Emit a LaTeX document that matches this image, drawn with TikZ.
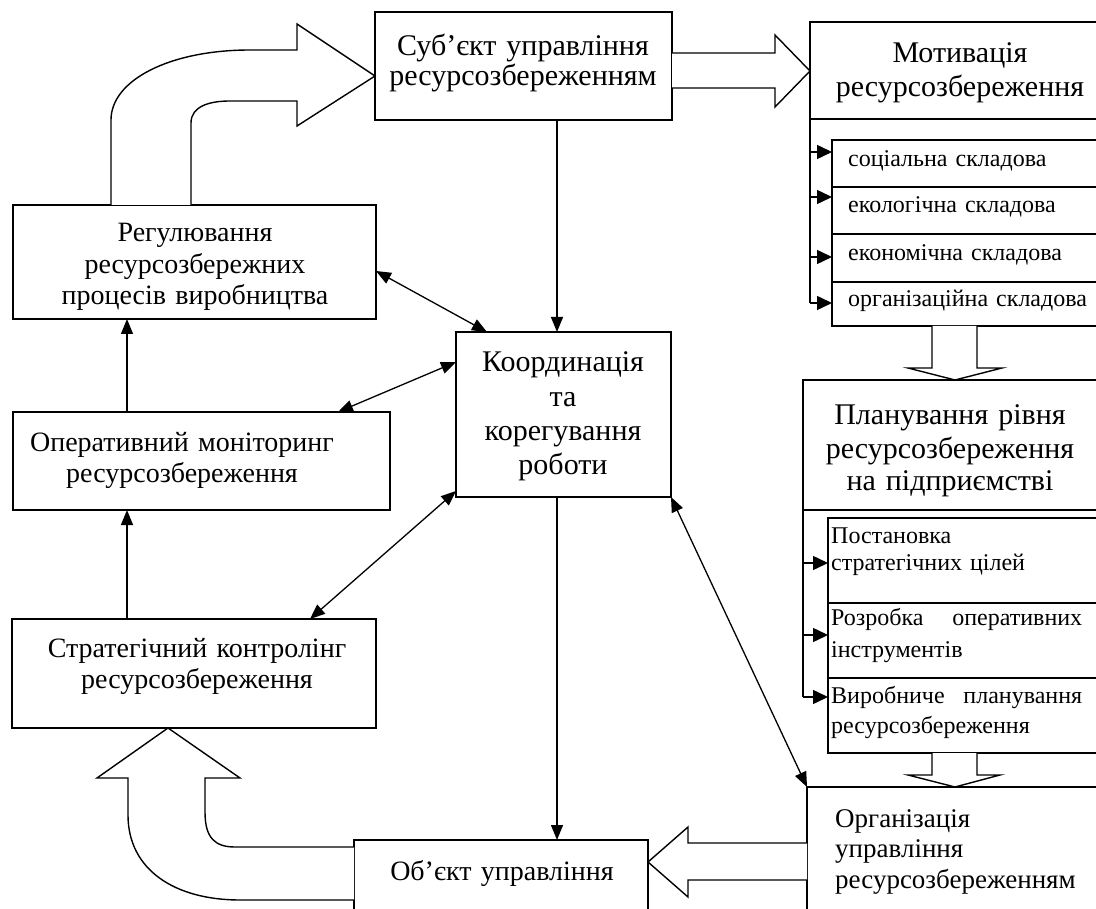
\documentclass[tikz,border=0pt]{standalone}
\usepackage{fontspec}
\setmainfont{Liberation Serif}
\usetikzlibrary{arrows.meta}
\begin{document}
\begin{tikzpicture}[x=1pt,y=-1pt,
  box/.style={draw, line width=1.5pt, inner sep=0pt, outer sep=0pt, anchor=north west},
  txt/.style={anchor=base, align=center, text width=#1, inner sep=0pt},
  ltxt/.style={anchor=base west, align=left, text width=#1, inner sep=0pt},
  fbig/.style={font=\fontsize{30}{#1}\selectfont},
  fmid/.style={font=\fontsize{28}{#1}\selectfont},
  fsml/.style={font=\fontsize{24}{#1}\selectfont},
  arr/.style={line width=1.3pt, -{Triangle[length=15pt,width=12pt]}},
  dbl/.style={line width=1.3pt, {Triangle[length=15pt,width=12pt]}-{Triangle[length=15pt,width=12pt]}},
  sarr/.style={line width=1.5pt, -{Triangle[length=15pt,width=14pt]}},
  blk/.style={line width=1.4pt, fill=white, line join=miter}]
\useasboundingbox (0,0) rectangle (1096,909);
\clip (0,0) rectangle (1096,909);
% boxes
\node[box, minimum width=297, minimum height=108] (subj) at (375,12) {};
\node[box, minimum width=290, minimum height=97] (mot) at (810,22) {};
\node[box, minimum width=268, minimum height=47] (ms1) at (832,140) {};
\node[box, minimum width=268, minimum height=47] (ms2) at (832,187) {};
\node[box, minimum width=268, minimum height=48] (ms3) at (832,234) {};
\node[box, minimum width=268, minimum height=44] (ms4) at (832,282) {};
\node[box, minimum width=297, minimum height=130] (plan) at (803,380) {};
\node[box, minimum width=272, minimum height=85] (ps1) at (828,518) {};
\node[box, minimum width=272, minimum height=75] (ps2) at (828,603) {};
\node[box, minimum width=272, minimum height=75] (ps3) at (828,678) {};
\node[box, minimum width=293, minimum height=130] (org) at (807,787) {};
\node[box, minimum width=294, minimum height=80] (obj) at (354,840) {};
\node[box, line width=2.5pt, minimum width=215, minimum height=165] (coord) at (456,332) {};
\node[box, minimum width=363, minimum height=114] (reg) at (13,205) {};
\node[box, minimum width=377, minimum height=98] (mon) at (13,412) {};
\node[box, minimum width=364, minimum height=109] (strat) at (12,619) {};
% texts
\node[txt=320, fbig=30] (tsubj) at (523,56) {Суб’єкт управління\\ресурсозбереженням};
\node[txt=300, fbig=34] (tmot) at (960,63) {Мотивація\\ресурсозбереження};
\node[ltxt=250, fsml=28] (tms1) at (848,167) {соціальна складова};
\node[ltxt=250, fsml=28] (tms2) at (848,213) {екологічна складова};
\node[ltxt=250, fsml=28] (tms3) at (848,261) {економічна складова};
\node[ltxt=250, fsml=28] (tms4) at (848,307) {організаційна складова};
\node[txt=300, fbig=33] (tplan) at (950,425) {Планування рівня\\ресурсозбереження\\на підприємстві};
\node[ltxt=251, fsml=28] (tps1) at (831,543) {Постановка\\стратегічних цілей};
\node[ltxt=251, fsml=32] (tps2) at (831,625) {Розробка\hfill оперативних\\інструментів};
\node[ltxt=251, fsml=30] (tps3) at (831,703) {Виробниче\hfill планування\\ресурсозбереження};
\node[ltxt=260, font=\fontsize{27}{30.5}\selectfont] (torg) at (835,827) {Організація\\управління\\ресурсозбереженням};
\node[txt=290, fmid=30] (tobj) at (502,880) {Об’єкт управління};
\node[txt=210, fbig=34.3] (tcoord) at (563,372) {Координація\\та\\корегування\\роботи};
\node[txt=360, fmid=31.5] (treg) at (195,242) {Регулювання\\ресурсозбережних\\процесів виробництва};
\node[txt=370, fmid=31] (tmon) at (182,452) {Оперативний моніторинг\\ресурсозбереження};
\node[txt=360, fmid=31] (tstrat) at (197,657) {Стратегічний контролінг\\ресурсозбереження};
% block arrows
\draw[blk] (subj.east |- 0,53) -- (775,53) -- (775,35) -- (mot.west |- 0,71) -- (775,107) -- (775,88) -- (subj.east |- 0,88) ;
\draw[blk] (reg.north -| 111,0) -- (111,120) .. controls (111,80) and (170,50) .. (250,50) -- (297,50) -- (297,24)
  -- (subj.west |- 0,76) -- (297,126) -- (297,101) -- (230,101) .. controls (210,101) and (191,106) .. (191,123) -- (reg.north -| 191,0);
\draw[blk] (obj.west |- 0,900) -- (240,900) .. controls (175,900) and (128,870) .. (128,815) -- (128,778) -- (97,778)
  -- (strat.south -| 168,0) -- (240,778) -- (205,778) -- (205,812) .. controls (205,838) and (215,847) .. (235,847) -- (obj.west |- 0,847);
\draw[blk] (org.west |- 0,843) -- (688,843) -- (688,827) -- (obj.east |- 0,862) -- (688,897) -- (688,880) -- (org.west |- 0,880);
\draw[blk] (ms4.south -| 932,0) -- (932,368) -- (908,368) -- (plan.north -| 955,0) -- (1002,368) -- (977,368) -- (ms4.south -| 977,0);
\draw[blk] (ps3.south -| 932,0) -- (932,775) -- (908,775) -- (org.north -| 955,0) -- (1000,775) -- (977,775) -- (ps3.south -| 977,0);
% motivation sub arrows
\draw[line width=1.5pt] (mot.south west) -- (mot.south west |- 0,303);
\draw[sarr] (mot.south west |- 0,152) -- (ms1.west |- 0,152);
\draw[sarr] (mot.south west |- 0,197) -- (ms2.west |- 0,197);
\draw[sarr] (mot.south west |- 0,257) -- (ms3.west |- 0,257);
\draw[sarr] (mot.south west |- 0,303) -- (ms4.west |- 0,303);
% planning sub arrows
\draw[line width=1.5pt] (plan.south west) -- (plan.south west |- 0,697);
\draw[sarr] (plan.south west |- 0,563) -- (ps1.west |- 0,563);
\draw[sarr] (plan.south west |- 0,635) -- (ps2.west |- 0,635);
\draw[sarr] (plan.south west |- 0,697) -- (ps3.west |- 0,697);
% connectors
\draw[arr] (subj.south -| 557,0) -- (coord.north -| 557,0);
\draw[arr] (coord.south -| 557,0) -- (obj.north -| 557,0);
\draw[arr] (mon.north -| 127,0) -- (reg.south -| 127,0);
\draw[arr] (strat.north -| 127,0) -- (mon.south -| 127,0);
\draw[dbl] (reg.east |- 0,271) -- (coord.north -| 487,0);
\draw[dbl] (coord.west |- 0,362) -- (mon.north -| 338,0);
\draw[dbl] (coord.west |- 0,491) -- (strat.north -| 310,0);
\draw[dbl] (coord.south east) -- (org.north west);
\end{tikzpicture}
\end{document}
